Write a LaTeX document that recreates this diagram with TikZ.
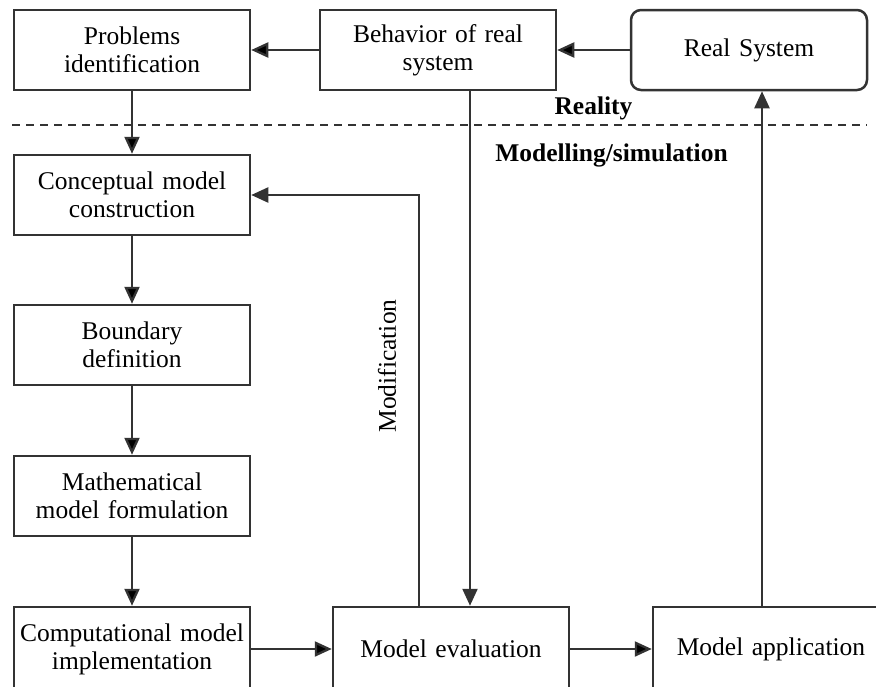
\documentclass[tikz,border=0pt]{standalone}
\usepackage{fontspec}
\setmainfont{Liberation Serif}
\usepackage{tikz}
\usetikzlibrary{arrows.meta}
\def\bigfont{\fontsize{25.5}{28}\selectfont}

\begin{document}
\begin{tikzpicture}[x=1pt,y=-1pt,font=\bigfont,
  box/.style={draw=black!80,line width=2.5pt,minimum width=236pt,minimum height=80pt,inner sep=0pt,text width=230pt,align=center},
  lowbox/.style={box,minimum height=84pt},
  arr/.style={draw=black!80,line width=2.3pt,-{Triangle[length=17pt,width=15pt]}},
  lbl/.style={font=\bigfont\bfseries}]
  \useasboundingbox (0,0) rectangle (876,686);
  % reality row
  \node[box] (prob) at (132,50) {Problems\\identification};
  \node[box] (behav) at (438,50) {Behavior of real\\system};
  \node[box,rounded corners=10pt] (real) at (749,50) {Real System};
  \coordinate (dl) at (12,125);
  \coordinate (dr) at (867,125);
  \draw[black!80,line width=2.5pt,dash pattern=on 8pt off 6pt] (dl) -- (dr);
  \node[lbl] (reality) at (593.5,108) {Reality};
  \node[lbl] (modsim) at (611.5,155) {Modelling/simulation};
  % modelling column
  \node[box] (concept) at (132,195) {Conceptual model\\construction};
  \node[box] (bound) at (132,345) {Boundary\\definition};
  \node[box] (math) at (132,496) {Mathematical\\model formulation};
  \node[lowbox] (comp) at (132,649) {Computational model\\implementation};
  \node[lowbox] (eval) at (451,649) {Model evaluation};
  \node[lowbox] (app) at (771,649) {Model application};
  \node[rotate=90] (modif) at (387,366) {Modification};
  \path[arr]
    (real) edge (behav)
    (behav) edge (prob)
    (prob) edge (concept)
    (concept) edge (bound)
    (bound) edge (math)
    (math) edge (comp)
    (comp) edge (eval)
    (eval) edge (app);
  \draw[arr] ([xshift=32pt]behav.south) -- ([xshift=32pt]behav.south |- eval.north);
  \draw[arr] ([xshift=-32pt]eval.north) |- (concept.east);
  \draw[arr] ([xshift=-9pt]app.north) -- ([xshift=-9pt]app.north |- real.south);
\end{tikzpicture}
\end{document}
